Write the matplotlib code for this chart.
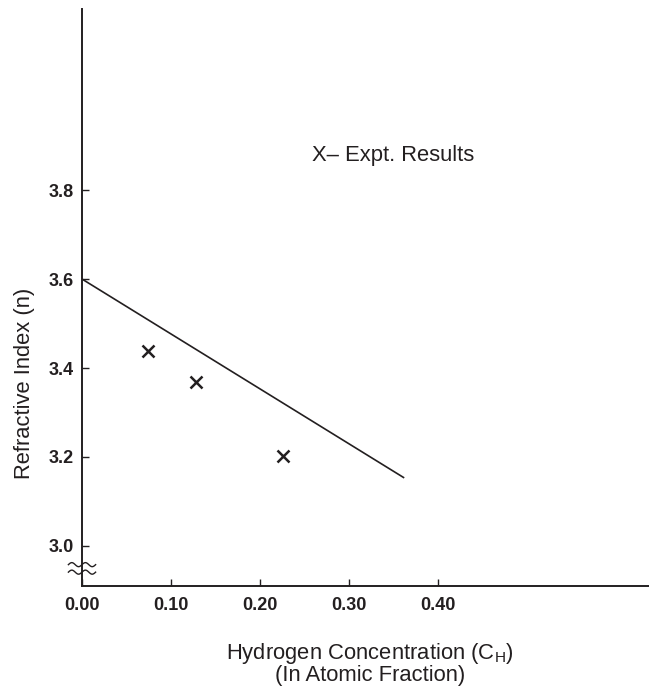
import numpy as np
import matplotlib
matplotlib.use("Agg")
import matplotlib.pyplot as plt

plt.rcParams['font.family'] = ['Liberation Sans', 'DejaVu Sans']
plt.rcParams['mathtext.fontset'] = 'custom'
plt.rcParams['mathtext.rm'] = 'Liberation Sans'
plt.rcParams['mathtext.it'] = 'Liberation Sans:italic'

# experimental points
expt_ch = [0.074, 0.128, 0.226]
expt_n = [3.438, 3.369, 3.202]

# theoretical line
line_ch = [0.0, 0.362]
line_n = [3.60, 3.153]

xticks = [0.0, 0.1, 0.2, 0.3, 0.4]
xtick_labels = ['0.00', '0.10', '0.20', '0.30', '0.40']
yticks = [3.0, 3.2, 3.4, 3.6, 3.8]
ytick_labels = ['3.0', '3.2', '3.4', '3.6', '3.8']

W, H = 649, 693
fig = plt.figure(figsize=(W / 100, H / 100), dpi=100)
ax = fig.add_axes([82 / W, 1 - 586 / H, 1 - 82 / W, (586 - 9) / H])

ax.plot(line_ch, line_n, color='#231f20', lw=1.2, solid_capstyle='butt')
ax.plot(expt_ch, expt_n, 'x', color='#231f20', ms=8, mew=1.8, linestyle='none')

ax.set_xlim(0, 0.637)
ax.set_ylim(2.91, 4.207)

ax.spines['top'].set_visible(False)
ax.spines['right'].set_visible(False)
for s in ('left', 'bottom'):
    ax.spines[s].set_linewidth(1.4)
    ax.spines[s].set_color('#231f20')

ax.set_xticks(xticks)
ax.set_xticklabels(xtick_labels, fontsize=13, fontweight='bold', color='#231f20')
ax.set_yticks(yticks)
ax.set_yticklabels(ytick_labels, fontsize=13, fontweight='bold', color='#231f20')
ax.tick_params(axis='x', direction='in', length=5, width=1.0, pad=8, color='#231f20')
ax.tick_params(axis='y', direction='in', length=5, width=1.0, pad=6, color='#231f20')

# axis break marks on the y axis
t = np.linspace(-0.024, 0.024, 60)
for yy in (0.037, 0.024):
    ax.plot(t, yy + 0.0035 * np.sin(t / 0.024 * 2 * np.pi), transform=ax.transAxes,
            color='#231f20', lw=1.0, clip_on=False)

ax.text(0.405, 0.746, 'X\u2013 Expt. Results', transform=ax.transAxes,
        fontsize=15.8, color='#231f20', ha='left', va='center')

fig.text(370 / W, 1 - 653 / H, r'Hydrogen Concentration (C$_\mathrm{H}$)',
         fontsize=15.8, color='#231f20', ha='center', va='center')
fig.text(370 / W, 1 - 676 / H, '(In Atomic Fraction)',
         fontsize=15.8, color='#231f20', ha='center', va='center')
fig.text(25 / W, 1 - 383 / H, 'Refractive Index (n)', rotation=90,
         fontsize=15.8, color='#231f20', ha='center', va='center')

fig.savefig('out.png', dpi=100)
